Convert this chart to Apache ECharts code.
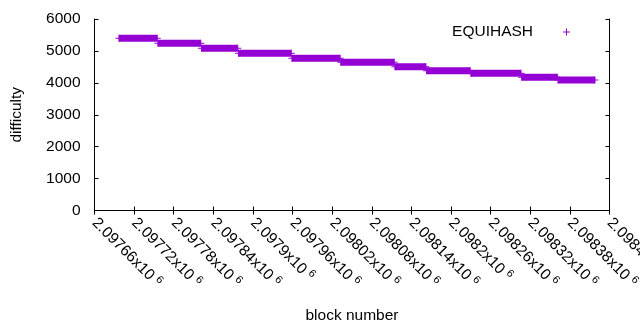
<!DOCTYPE html>
<html>
<head>
<meta charset="utf-8">
<script src="https://cdn.jsdelivr.net/npm/echarts@6/dist/echarts.min.js"></script>
<style>html,body{margin:0;padding:0;background:#fff}#c{width:640px;height:330px}</style>
</head>
<body>
<div id="c"></div>
<script>
// Difficulty steps (block range and difficulty)
const stepStart = [2097697, 2097756, 2097822, 2097878, 2097959, 2098033, 2098115, 2098163, 2098230, 2098307, 2098362];
const stepEnd   = [2097755, 2097821, 2097877, 2097958, 2098032, 2098114, 2098162, 2098229, 2098306, 2098361, 2098418];
const stepDifficulty = [5398, 5238, 5081, 4925, 4768, 4643, 4505, 4380, 4298, 4176, 4085];
const seriesName = 'EQUIHASH';
const xMin = 2097660, xMax = 2098440, xStep = 60;
const yMin = 0, yMax = 6000, yStep = 1000;
const xTitle = 'block number', yTitle = 'difficulty';

const FONT = 'Liberation Sans';
const COLOR = '#9400d3';
const PLUS = 'path://M0,3L7,3L7,4L0,4Z M3,0L4,0L4,7L3,7Z';

const series = stepStart.map((s, i) => ({
  name: seriesName,
  type: 'line',
  data: [[s, stepDifficulty[i]], [stepEnd[i], stepDifficulty[i]]],
  symbol: PLUS,
  symbolSize: 7,
  showAllSymbol: true,
  lineStyle: { color: COLOR, width: 7, cap: 'butt' },
  itemStyle: { color: COLOR },
  silent: true,
  animation: false
}));

function xLabel(v) {
  const m = parseFloat((v / 1e6).toPrecision(7));
  return '{a|' + m + 'x10}{s|6}';
}

const chart = echarts.init(document.getElementById('c'), null, { renderer: 'canvas' });
chart.setOption({
  animation: false,
  backgroundColor: '#fff',
  textStyle: { fontFamily: FONT },
  grid: { left: 94.5, top: 19, width: 515, height: 191.5, containLabel: false, outerBoundsMode: 'none' },
  legend: {
    data: [{ name: seriesName, icon: PLUS }],
    right: 70, top: 24, padding: 0,
    align: 'right',
    itemWidth: 7, itemHeight: 7, itemGap: 0,
    textStyle: { fontFamily: FONT, fontSize: 15.5, color: '#000', padding: [0, 25, 0, 0] }
  },
  xAxis: [{
    type: 'value', min: xMin, max: xMax, interval: xStep,
    name: xTitle, nameLocation: 'middle', nameGap: 97,
    nameTextStyle: { fontFamily: FONT, fontSize: 15.5, color: '#000' },
    axisLine: { show: true, lineStyle: { color: '#000', width: 1 } },
    axisTick: { show: true, inside: true, length: 4, lineStyle: { color: '#000' } },
    splitLine: { show: false },
    axisLabel: {
      rotate: -45, margin: 10, color: '#000', showMaxLabel: true,
      formatter: xLabel,
      rich: {
        a: { fontFamily: FONT, fontSize: 15.5, color: '#000' },
        s: { fontFamily: FONT, fontSize: 11, color: '#000', padding: [0, 0, 8, 4] }
      }
    }
  }, {
    type: 'value', position: 'top', min: xMin, max: xMax, interval: xStep,
    axisLine: { show: true, lineStyle: { color: '#000', width: 1 } },
    axisTick: { show: true, inside: true, length: 4, lineStyle: { color: '#000' } },
    axisLabel: { show: false }, splitLine: { show: false }
  }],
  yAxis: [{
    type: 'value', min: yMin, max: yMax, interval: yStep,
    name: yTitle, nameLocation: 'middle', nameGap: 70,
    nameTextStyle: { fontFamily: FONT, fontSize: 15.5, color: '#000' },
    axisLine: { show: true, lineStyle: { color: '#000', width: 1 } },
    axisTick: { show: true, inside: true, length: 4, lineStyle: { color: '#000' } },
    splitLine: { show: false },
    axisLabel: { margin: 14, color: '#000', fontFamily: FONT, fontSize: 15.5, formatter: v => String(v) }
  }, {
    type: 'value', position: 'right', min: yMin, max: yMax, interval: yStep,
    axisLine: { show: true, lineStyle: { color: '#000', width: 1 } },
    axisTick: { show: true, inside: true, length: 4, lineStyle: { color: '#000' } },
    axisLabel: { show: false }, splitLine: { show: false }
  }],
  series: series
});
</script>
</body>
</html>
